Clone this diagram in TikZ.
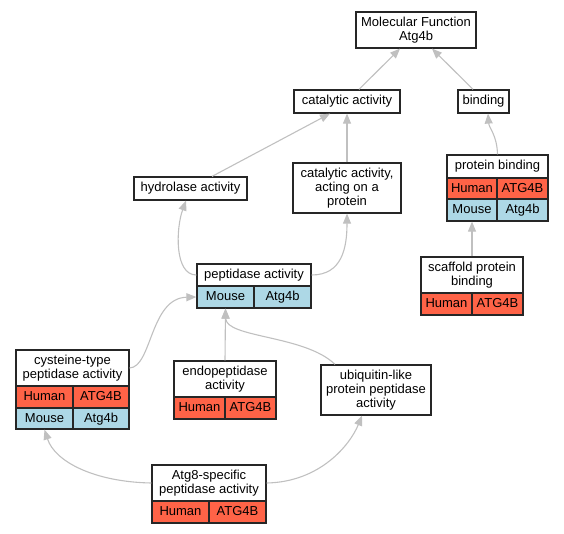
\documentclass[tikz,border=0pt]{standalone}
\usepackage{fontspec}
\setmainfont{Liberation Sans}
\usetikzlibrary{arrows.meta}
\definecolor{human}{HTML}{FF6347}
\definecolor{mouse}{HTML}{ADD8E6}
\definecolor{isagray}{HTML}{C0C0C0}
\tikzset{term/.style={draw=black!85,line width=1.2pt,fill=white,inner sep=0pt,align=center,font=\fontsize{13}{14}\selectfont},
         hs/.style={term,fill=human,text height=9.5pt,text depth=2.5pt},
         mm/.style={term,fill=mouse,text height=9.5pt,text depth=2.5pt},
         isa/.style={draw=isagray,line width=1.1pt,-{Triangle[length=10pt,width=8pt]}}}

\begin{document}
\begin{tikzpicture}[x=1pt,y=-1pt]
                \useasboundingbox (0,0) rectangle (564,533);
                % terms
                \node (mf) [term,minimum width=120pt,minimum height=36pt] at (416,30) {Molecular Function\\Atg4b};
                \node (cat) [term,minimum width=106pt,minimum height=23pt] at (347,101.5) {catalytic activity};
                \node (bind) [term,minimum width=51pt,minimum height=23pt] at (483.5,101.5) {binding};
                \node (catprot) [term,minimum width=108pt,minimum height=50pt] at (347,188) {catalytic activity,\\acting on a\\protein};
                \node (hydro) [term,minimum width=113pt,minimum height=23pt] at (190.5,188.5) {hydrolase activity};
                \node (ubq) [term,minimum width=110pt,minimum height=50pt] at (376,390) {ubiquitin-like\\protein peptidase\\activity};
                % terms with genes
                \node (protbind) [term,minimum width=101pt,minimum height=23pt] at (497.5,166.5) {protein binding};
                \node (protbindHs) [hs,minimum width=50pt,minimum height=21pt] at (472,188.5) {Human};
                \node (protbindHsGene) [hs,minimum width=51pt,minimum height=21pt] at (522.5,188.5) {ATG4B};
                \node (protbindMm) [mm,minimum width=50pt,minimum height=22pt] at (472,210) {Mouse};
                \node (protbindMmGene) [mm,minimum width=51pt,minimum height=22pt] at (522.5,210) {Atg4b};
                \node (scaf) [term,minimum width=102pt,minimum height=36pt] at (472,275) {scaffold protein\\binding};
                \node (scafHs) [hs,minimum width=51pt,minimum height=22pt] at (446.5,304) {Human};
                \node (scafHsGene) [hs,minimum width=51pt,minimum height=22pt] at (497.5,304) {ATG4B};
                \node (pep) [term,minimum width=114pt,minimum height=22pt] at (254,275) {peptidase activity};
                \node (pepMm) [mm,minimum width=57pt,minimum height=22pt] at (225.5,297) {Mouse};
                \node (pepMmGene) [mm,minimum width=57pt,minimum height=22pt] at (282.5,297) {Atg4b};
                \node (cys) [term,minimum width=113pt,minimum height=36pt] at (72.5,368) {cysteine-type\\peptidase activity};
                \node (cysHs) [hs,minimum width=57pt,minimum height=22pt] at (44.5,397) {Human};
                \node (cysHsGene) [hs,minimum width=56pt,minimum height=22pt] at (101,397) {ATG4B};
                \node (cysMm) [mm,minimum width=57pt,minimum height=21pt] at (44.5,418.5) {Mouse};
                \node (cysMmGene) [mm,minimum width=56pt,minimum height=21pt] at (101,418.5) {Atg4b};
                \node (endo) [term,minimum width=102pt,minimum height=36pt] at (225,379) {endopeptidase\\activity};
                \node (endoHs) [hs,minimum width=51pt,minimum height=22pt] at (199.5,408) {Human};
                \node (endoHsGene) [hs,minimum width=51pt,minimum height=22pt] at (250.5,408) {ATG4B};
                \node (atg8) [term,minimum width=114pt,minimum height=36pt] at (209,483) {Atg8-specific\\peptidase activity};
                \node (atg8Hs) [hs,minimum width=57pt,minimum height=22pt] at (180.5,512) {Human};
                \node (atg8HsGene) [hs,minimum width=57pt,minimum height=22pt] at (237.5,512) {ATG4B};
                % is_a edges
                \draw [isa] ([xshift=12pt]cat.north) -- ([xshift=-16pt]mf.south);
                \draw [isa] ([xshift=-10.5pt]bind.north) -- ([xshift=16pt]mf.south);
                \draw [isa] ([xshift=21.5pt]hydro.north) -- ([xshift=-17pt]cat.south);
                \draw [isa] (catprot.north) -- (cat.south);
                \draw [isa] (protbind.north) .. controls (497,135) and (489,128) .. ([xshift=4.5pt]bind.south);
                \draw [isa] (scaf.north) -- (protbindMm.south);
                \draw [isa] (pep.west) .. controls (174,275) and (176,228) .. ([xshift=-4.5pt]hydro.south);
                \draw [isa] (pep.east) .. controls (342,275) and (347,248) .. (catprot.south);
                \draw [isa] (cys.east) .. controls (152,367) and (150,298) .. (pepMm.west);
                \draw [isa] (endo.north) -- (pepMm.south);
                \draw [isa] ([xshift=-41pt]ubq.north) .. controls (305,335) and (226,338) .. (pepMm.south);
                \draw [isa] (atg8.west) .. controls (95,482) and (55,462) .. (cysMm.south);
                \draw [isa] (atg8.east) .. controls (320,482) and (350,445) .. ([xshift=-14pt]ubq.south);
\end{tikzpicture}
\end{document}
